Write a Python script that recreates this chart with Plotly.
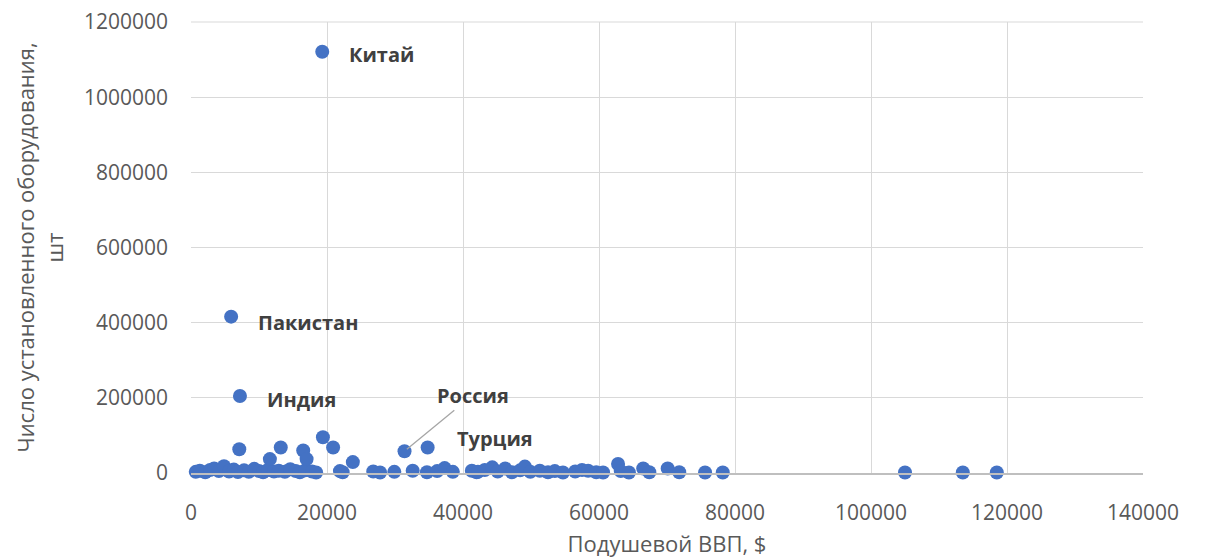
import plotly.graph_objects as go

# Named countries
named_labels = ["Китай", "Пакистан", "Индия", "Россия", "Турция"]
named_gdp = [19300, 5900, 7200, 31400, 34800]
named_units = [1121000, 416000, 205000, 58000, 68000]

# Other countries (GDP per capita, units installed)
other_gdp = [700, 1300, 2100, 2800, 3400, 4100, 4850, 5600, 6300, 6900,
             7800, 8500, 9300, 10000, 10600, 11300, 12200, 12900, 13800, 14600,
             15400, 16000, 16800, 17800, 18400,
             7100, 13200, 11600, 16500, 17000, 19400, 20900, 23800,
             21900, 22300, 26800, 27800, 29900, 32600, 34700, 36200, 37300, 38500, 42000,
             41300, 42200, 43200, 44300, 45100, 46200, 47200, 48400, 49100, 49900,
             51300, 52500, 53500, 54700, 56500, 57500, 58400, 59600, 60600,
             62800, 63200, 64400, 66500, 67400, 70100, 71800, 75600, 78200,
             105000, 113500, 118500]
other_units = [3000, 6000, 2000, 8000, 12000, 5000, 18000, 4000, 9000, 2500,
               7000, 3000, 11000, 5000, 2000, 8000, 4000, 6000, 3000, 10000,
               5000, 2000, 7000, 4000, 1500,
               63000, 68000, 37000, 60000, 37000, 95000, 68000, 29000,
               5000, 2000, 4000, 1500, 3000, 6000, 2000, 5000, 13000, 3000, 2000,
               6000, 3000, 8000, 15000, 4000, 12000, 2000, 7000, 17000, 3000,
               6000, 2000, 5000, 1500, 4000, 8000, 6000, 2000, 1500,
               24000, 5000, 1500, 12000, 2000, 12000, 2000, 1500, 1500,
               1500, 1500, 1500]

x_ticks = [0, 20000, 40000, 60000, 80000, 100000, 120000, 140000]
y_ticks = [0, 200000, 400000, 600000, 800000, 1000000, 1200000]

blue = "#4472C4"
grid = "#D9D9D9"
fig = go.Figure()
fig.add_trace(go.Scatter(x=other_gdp + named_gdp, y=other_units + named_units,
                         mode="markers", marker=dict(color=blue, size=14),
                         showlegend=False, hoverinfo="x+y", cliponaxis=False))

label_font = dict(family="Open Sans", size=20, color="#404040")
shifts = {"Китай": (25, -3), "Пакистан": (25, -6), "Индия": (25, -4), "Турция": (27, 9)}
for name, gx, gy in zip(named_labels, named_gdp, named_units):
    if name == "Россия":
        fig.add_annotation(x=gx, y=gy, text="<b>" + name + "</b>", showarrow=True,
                           arrowhead=0, arrowwidth=1.3, arrowcolor="#A6A6A6",
                           ax=68, ay=-56, font=label_font, standoff=3)
    else:
        dx, dy = shifts[name]
        fig.add_annotation(x=gx, y=gy, text="<b>" + name + "</b>", showarrow=False,
                           xanchor="left", yanchor="middle", xshift=dx, yshift=dy,
                           font=label_font)

# top gridline (plotly drops gridlines at the plot edge)
fig.add_shape(type="line", xref="paper", yref="paper", x0=0, x1=1, y0=1, y1=1,
              line=dict(color=grid, width=1), layer="below")

fig.update_layout(
    width=1204, height=552,
    margin=dict(l=183, r=69, t=14, b=87),
    paper_bgcolor="white", plot_bgcolor="white",
    font=dict(family="Open Sans", color="#595959", size=21),
)
fig.update_xaxes(range=[0, 140000], tickvals=x_ticks, ticktext=[str(v) for v in x_ticks],
                 showgrid=True, gridcolor=grid, gridwidth=1,
                 showline=True, linecolor="#BFBFBF", linewidth=1.5,
                 zeroline=False, ticks="", ticklabelstandoff=20, automargin=False,
                 ticklabeloverflow="allow",
                 title=dict(text="Подушевой ВВП, $", font=dict(size=22, color="#595959"), standoff=12))
fig.update_yaxes(range=[0, 1200000], tickvals=y_ticks, ticktext=[str(v) for v in y_ticks],
                 showgrid=True, gridcolor=grid, gridwidth=1,
                 showline=False, zeroline=False, ticks="", ticklabelstandoff=22, automargin=False,
                 ticklabeloverflow="allow",
                 title=dict(text="Число установленного оборудования,<br>шт",
                            font=dict(size=22, color="#595959"), standoff=14))

fig.write_html("out.html")
